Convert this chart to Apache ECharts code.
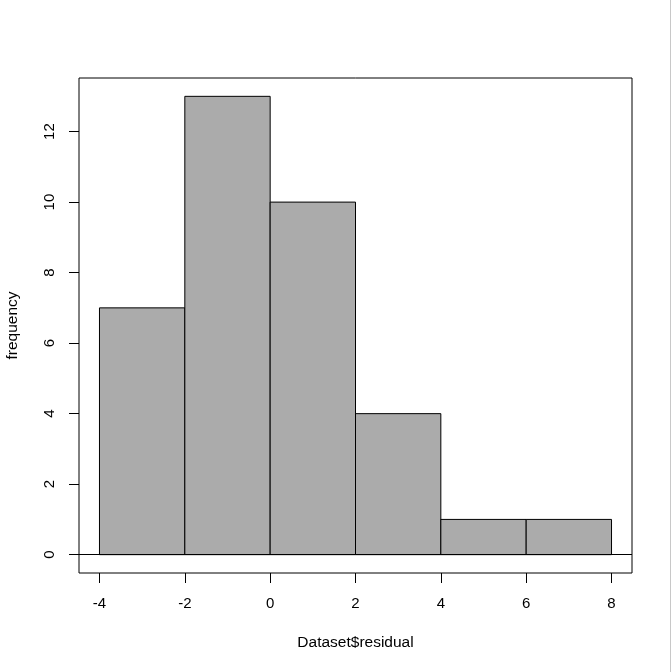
<!DOCTYPE html>
<html><head><meta charset="utf-8">
<script src="https://cdn.jsdelivr.net/npm/echarts@6/dist/echarts.min.js"></script>
<style>html,body{margin:0;padding:0;background:#fff}#c{width:672px;height:672px}</style>
</head><body><div id="c"></div>
<script>
const binStarts = [-4, -2, 0, 2, 4, 6];
const binEnds = [-2, 0, 2, 4, 6, 8];
const counts = [7, 13, 10, 4, 1, 1];
const xTicks = [-4, -2, 0, 2, 4, 6, 8];
const yTicks = [0, 2, 4, 6, 8, 10, 12];

const data = binStarts.map((s, i) => [s, binEnds[i], counts[i]]);
const font = 'Liberation Sans, Arial, sans-serif';
const chart = echarts.init(document.getElementById('c'));
chart.setOption({
  animation: false,
  backgroundColor: '#fff',
  grid: {left: 79, top: 78, width: 553, height: 495, containLabel: false, outerBoundsMode: 'none',
    show: true, borderColor: '#000', borderWidth: 1, backgroundColor: 'transparent'},
  xAxis: {
    type: 'value', min: -4.48, max: 8.48,
    name: 'Dataset$residual', nameLocation: 'middle', nameGap: 62,
    nameTextStyle: {fontFamily: font, fontSize: 15.5, color: '#000'},
    axisLine: {show: false, onZero: false},
    axisTick: {show: true, inside: false, length: 10, customValues: xTicks, lineStyle: {color: '#000'}},
    axisLabel: {customValues: xTicks, margin: 23, fontFamily: font, fontSize: 15, color: '#000'},
    splitLine: {show: false}
  },
  yAxis: {
    type: 'value', min: -0.52, max: 13.52,
    name: 'frequency', nameLocation: 'middle', nameGap: 58, nameRotate: 90,
    nameTextStyle: {fontFamily: font, fontSize: 15.5, color: '#000'},
    axisLine: {show: false, onZero: false},
    axisTick: {show: true, inside: false, length: 10, customValues: yTicks, lineStyle: {color: '#000'}},
    axisLabel: {customValues: yTicks, margin: 22, rotate: 90, fontFamily: font, fontSize: 15, color: '#000'},
    splitLine: {show: false}
  },
  series: [{
    type: 'custom',
    data: data,
    encode: {x: [0, 1], y: 2},
    renderItem: function (params, api) {
      const p0 = api.coord([api.value(0), api.value(2)]);
      const p1 = api.coord([api.value(1), 0]);
      return {type: 'rect', shape: {x: p0[0], y: p0[1], width: p1[0] - p0[0], height: p1[1] - p0[1]},
        style: {fill: '#ABABAB', stroke: '#000', lineWidth: 1}};
    },
    markLine: {silent: true, symbol: 'none', label: {show: false},
      lineStyle: {color: '#000', width: 1, type: 'solid'}, data: [{yAxis: 0}]}
  }],
  graphic: [{type: 'line', shape: {x1: 670.5, y1: 0, x2: 670.5, y2: 672}, style: {stroke: '#c8c8c8', lineWidth: 1}}]
});
</script></body></html>
